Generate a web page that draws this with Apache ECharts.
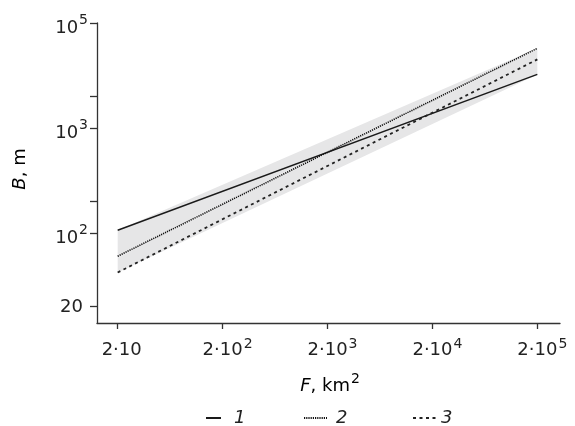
<!DOCTYPE html>
<html><head><meta charset="utf-8">
<script src="https://cdn.jsdelivr.net/npm/echarts@6/dist/echarts.min.js"></script>
<style>html,body{margin:0;padding:0;background:#fff}#c{width:575px;height:426px}</style>
</head><body><div id="c"></div>
<script>
// ---- data (F in km^2, B in m) ----
const xValues = [20, 200000];
const series1 = [106, 3240];
const series2 = [60, 5740];
const series3 = [42, 4500];
const bandLower = [42, 3240];
const bandUpper = [106, 5740];
const seriesNames = ['1', '2', '3'];
const xTickValues = [20, 200, 2000, 20000, 200000];
const xTickBase = ['2·10', '2·10', '2·10', '2·10', '2·10'];
const xTickExp = ['', '2', '3', '4', '5'];
const yTickValues = [20, 100, 200, 1000, 2000, 10000];
const yTickBase = ['20', '10', '', '10', '', '10'];
const yTickExp = ['', '2', '', '3', '', '5'];
const xTitle = ['F', ', km', '2'];
const yTitle = ['B', ', m'];

const L = Math.log10;
const FONT = 'DejaVu Sans';
const TXT = '#222';
const AX = '#333';
const base = { fontSize: 18, lineHeight: 14, fontFamily: FONT, color: TXT, verticalAlign: 'middle' };
const rich = {
  b: Object.assign({}, base, { padding: [10, 0, 0, 0] }),
  bp: Object.assign({}, base, { padding: [9, 0, 0, 10] }),
  bq: Object.assign({}, base, { padding: [9, 0, 0, 8] }),
  br: Object.assign({}, base, { padding: [2, 5, 0, 0] }),
  t: Object.assign({}, base),
  ti: Object.assign({}, base, { fontStyle: 'italic' }),
  s: { fontSize: 14, lineHeight: 14, fontFamily: FONT, color: TXT, verticalAlign: 'middle', padding: [0, 0, 4, 1] },
  sy: { fontSize: 14, lineHeight: 14, fontFamily: FONT, color: TXT, verticalAlign: 'middle', padding: [0, 0, 5, 1] },
  ts: { fontSize: 14, lineHeight: 14, fontFamily: FONT, color: TXT, verticalAlign: 'middle', padding: [0, 0, 13, 1] }
};
function idx(arr, v) { for (let i = 0; i < arr.length; i++) if (Math.abs(L(arr[i]) - v) < 1e-6) return i; return -1; }
const pts = (ys) => xValues.map((x, i) => [L(x), L(ys[i])]);

const chart = echarts.init(document.getElementById('c'), null, { renderer: 'canvas' });
chart.setOption({
  animation: false,
  backgroundColor: '#fff',
  grid: { left: 97, right: 15, top: 23, bottom: 103, containLabel: false },
  xAxis: {
    type: 'value', min: 1.104, max: 5.517,
    axisLine: { onZero: false, lineStyle: { color: AX, width: 1.3 } },
    splitLine: { show: false },
    axisTick: { customValues: xTickValues.map(L), length: 6, lineStyle: { color: AX, width: 1.3 } },
    axisLabel: {
      customValues: xTickValues.map(L), margin: 16, rich: rich,
      formatter: function (v) {
        const i = idx(xTickValues, v); if (i < 0) return '';
        return xTickExp[i] ? '{bp|' + xTickBase[i] + '}{s|' + xTickExp[i] + '}' : '{bq|' + xTickBase[i] + '}';
      }
    }
  },
  yAxis: {
    type: 'value', min: 1.142, max: 4,
    axisLine: { show: true, onZero: false, lineStyle: { color: AX, width: 1.3 } },
    splitLine: { show: false },
    axisTick: { show: true, customValues: yTickValues.map(L), length: 7, lineStyle: { color: AX, width: 1.3 } },
    axisLabel: {
      customValues: yTickValues.map(L), margin: 9, rich: rich,
      formatter: function (v) {
        const i = idx(yTickValues, v); if (i < 0 || !yTickBase[i]) return '';
        return yTickExp[i] ? '{b|' + yTickBase[i] + '}{sy|' + yTickExp[i] + '}' : '{br|' + yTickBase[i] + '}';
      }
    }
  },
  legend: seriesNames.map((n, k) => ({
    data: [n], top: 409, left: [205, 303, 412][k], padding: 0,
    itemWidth: [15, 23, 23][k], itemHeight: 14,
    itemStyle: { opacity: 0 },
    textStyle: { fontStyle: 'italic', fontSize: 18, lineHeight: 18, fontFamily: FONT, color: TXT, padding: [0, 0, 0, [8, 4, 0][k]] }
  })),
  graphic: [
    { type: 'text', x: 330, y: 386, silent: true,
      style: { text: '{ti|' + xTitle[0] + '}{t|' + xTitle[1] + '}{ts|' + xTitle[2] + '}', rich: rich, align: 'center', textAlign: 'center', verticalAlign: 'middle', textVerticalAlign: 'middle' } },
    { type: 'text', x: 20, y: 169, rotation: Math.PI / 2, silent: true,
      style: { text: '{ti|' + yTitle[0] + '}{t|' + yTitle[1] + '}', rich: rich, align: 'center', textAlign: 'center', verticalAlign: 'middle', textVerticalAlign: 'middle' } }
  ],
  series: [
    { name: 'band', type: 'custom', silent: true, z: 1,
      data: xValues.map((x, i) => [L(x), L(bandLower[i]), L(bandUpper[i])]),
      encode: { x: 0, y: [1, 2] },
      renderItem: function (params, api) {
        if (params.dataIndex !== 0) return null;
        const poly = [];
        for (let i = 0; i < xValues.length; i++) poly.push(api.coord([L(xValues[i]), L(bandUpper[i])]));
        for (let i = xValues.length - 1; i >= 0; i--) poly.push(api.coord([L(xValues[i]), L(bandLower[i])]));
        return { type: 'polygon', shape: { points: poly }, style: { fill: '#e6e6e7' } };
      } },
    { name: seriesNames[0], type: 'line', symbol: 'none', z: 3, data: pts(series1),
      itemStyle: { color: '#1a1a1a' }, lineStyle: { color: '#1a1a1a', width: 1.5, type: 'solid' } },
    { name: seriesNames[1], type: 'line', symbol: 'none', z: 3, data: pts(series2),
      itemStyle: { color: '#111' }, lineStyle: { color: '#111', width: 1.6, type: [1.2, 1] } },
    { name: seriesNames[2], type: 'line', symbol: 'none', z: 3, data: pts(series3),
      itemStyle: { color: '#222' }, lineStyle: { color: '#222', width: 1.8, type: [3, 3.5] } }
  ]
});
</script>
</body></html>
